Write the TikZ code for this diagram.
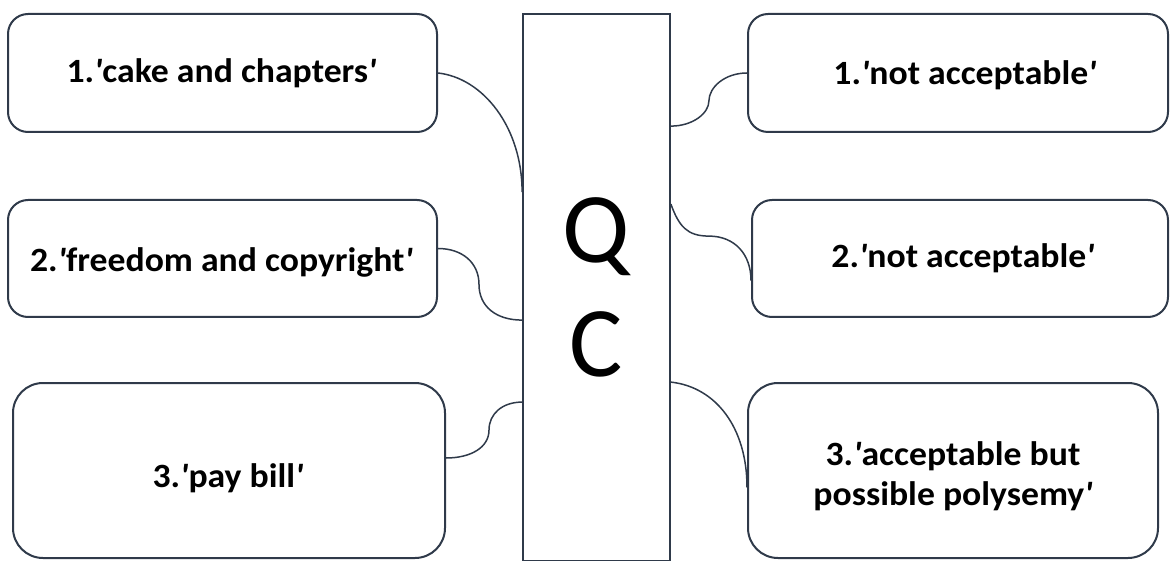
\documentclass[tikz,border=0pt]{standalone}
\usepackage{fontspec}
\setmainfont{Carlito}
\newfontfamily\boxfont{Carlito}[FakeStretch=1.05]
\newcommand\qmk{{\itshape\char"27}}
\newcommand\placetext[3]{\raisebox{-#2}[0pt][0pt]{\makebox[0pt]{\hspace*{#1}\hspace*{#1}#3}}}
\definecolor{edge}{RGB}{47,58,74}
\tikzset{
  box/.style={draw=edge, line width=2pt, rounded corners=20pt, inner sep=0pt,
    font=\boxfont\bfseries\fontsize{34}{40}\selectfont, text=black},
  bigbox/.style={box, rounded corners=30pt},
  centre/.style={draw=edge, line width=1.8pt, align=center, inner sep=0pt,
    font=\fontsize{100}{114}\selectfont, text=black},
  conn/.style={draw=edge, line width=1.5pt},
}
\begin{document}
\begin{tikzpicture}[x=1pt,y=-1pt]
\useasboundingbox (0,0) rectangle (1170,561);
% left boxes
\node[box, minimum width=429pt, minimum height=118pt] (lb1) at (222.5,73)
  {\placetext{-1pt}{10pt}{1.\qmk cake and chapters\qmk}};
\node[box, minimum width=429pt, minimum height=117pt] (lb2) at (222.5,258.5)
  {\placetext{-1pt}{13pt}{2.\qmk freedom and copyright\qmk}};
\node[bigbox, minimum width=432pt, minimum height=175pt] (lb3) at (229,470.5)
  {\placetext{-1pt}{16.5pt}{3.\qmk pay bill\qmk}};
% centre
\node[centre, minimum width=147pt, minimum height=547pt] (qc) at (596.5,287.5) {Q\\C};
% right boxes
\node[box, minimum width=420pt, minimum height=118pt] (rb1) at (958,73)
  {\placetext{7pt}{12pt}{1.\qmk not acceptable\qmk}};
\node[box, minimum width=416pt, minimum height=117pt] (rb2) at (960,258.5)
  {\placetext{3pt}{9pt}{2.\qmk not acceptable\qmk}};
\node[bigbox, minimum width=410pt, minimum height=175pt] (rb3) at (953,470.5)
  {\placetext{0pt}{-5.5pt}{\begin{tabular}[t]{@{}c@{}}3.\qmk acceptable but\\possible polysemy\qmk\end{tabular}}};
% attachment points
\path (qc.north west) ++(0,179) coordinate (qL1);
\path (qc.north west) ++(0,307) coordinate (qL2);
\path (qc.north west) ++(0,389) coordinate (qL3);
\path (qc.north east) ++(0,113) coordinate (qR1);
\path (qc.north east) ++(0,191) coordinate (qR2);
\path (qc.north east) ++(0,369) coordinate (qR3);
\path (lb2.east) ++(0,-10) coordinate (lc2);
\path (lb3.east) ++(0,-12.5) coordinate (lc3);
\path (rb2.west) ++(0,22) coordinate (rc2);
\path (rb3.west) ++(0,17) coordinate (rc3);
% connectors
\draw[conn] (lb1.east) .. controls +(45,5) and +(0,-65) .. (qL1);
\draw[conn] (lc2) .. controls +(24,0) and +(0,-22) .. ++(41,36) .. controls +(0,22) and +(-26,0) .. (qL2);
\draw[conn] (lc3) .. controls +(24,0) and +(0,18) .. ++(43,-28) .. controls +(0,-16) and +(-20,0) .. (qL3);
\draw[conn] (qR1) .. controls +(22,0) and +(0,12) .. ++(38,-25) .. controls +(0,-14) and +(-22,0) .. (rb1.west);
\draw[conn] (qR2) .. controls +(8,22) and +(-22,0) .. ++(38,32) .. controls +(26,0) and +(0,-26) .. (rc2);
\draw[conn] (qR3) .. controls +(45,5) and +(0,-60) .. (rc3);
\end{tikzpicture}
\end{document}
